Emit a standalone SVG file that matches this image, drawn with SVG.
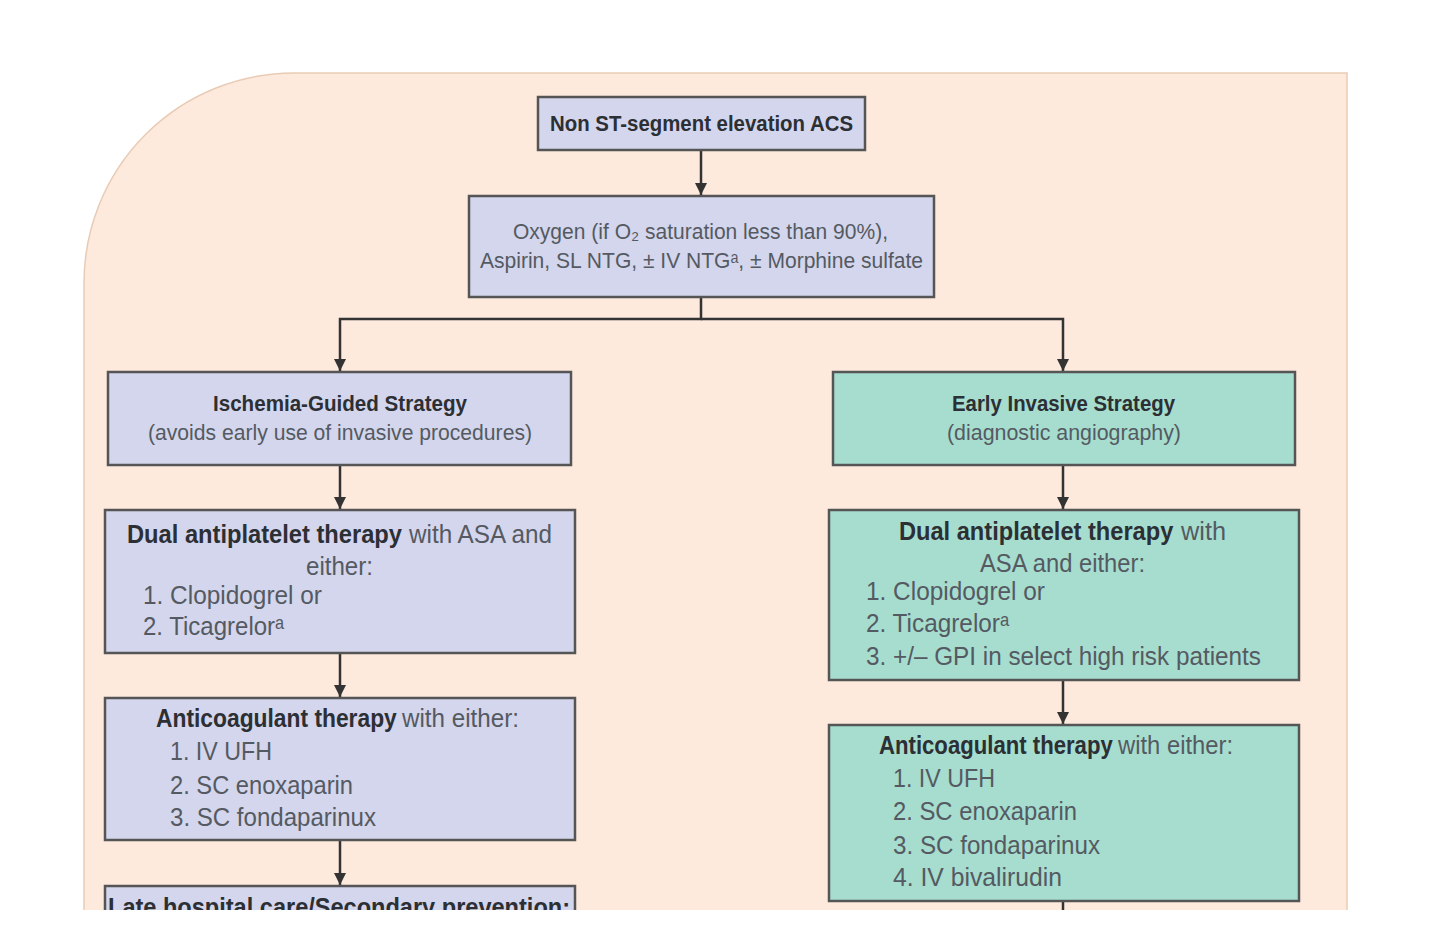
<svg xmlns="http://www.w3.org/2000/svg" width="1440" height="943" viewBox="0 0 1440 943">
<defs>
<style>
text{font-family:"Liberation Sans","DejaVu Sans",Arial,sans-serif;fill:#555a62}
.b{font-weight:bold;fill:#2c2f34}
.s22{font-size:22px}
.s25{font-size:25px}
.lav{fill:#d3d6ec;stroke:#555;stroke-width:2.5}
.teal{fill:#a6ddcf;stroke:#555;stroke-width:2.5}
.c{fill:none;stroke:#333;stroke-width:2.5}
</style>
<marker id="ah" viewBox="0 0 10 10" refX="10" refY="5" markerWidth="5" markerHeight="5" markerUnits="strokeWidth" orient="auto">
<path d="M0,0 L10,5 L0,10 z" fill="#333"/>
</marker>
<clipPath id="clip"><rect x="0" y="0" width="1440" height="910"/></clipPath>
</defs>
<rect width="1440" height="943" fill="#ffffff"/>
<g clip-path="url(#clip)">
<path id="background" d="M84,943 L84,283 A210,210 0 0 1 294,73 L1347,73 L1347,943 Z" fill="#fdeadd" stroke="#e9cbb5" stroke-width="1.5"/>

<g id="connectors">
<line class="c" x1="701" y1="150" x2="701" y2="195" marker-end="url(#ah)"/>
<polyline class="c" points="701,297 701,319 340,319 340,371" marker-end="url(#ah)"/>
<polyline class="c" points="701,319 1063,319 1063,371" marker-end="url(#ah)"/>
<line class="c" x1="340" y1="465" x2="340" y2="509" marker-end="url(#ah)"/>
<line class="c" x1="340" y1="653" x2="340" y2="697" marker-end="url(#ah)"/>
<line class="c" x1="340" y1="840" x2="340" y2="885" marker-end="url(#ah)"/>
<line class="c" x1="1063" y1="465" x2="1063" y2="509" marker-end="url(#ah)"/>
<line class="c" x1="1063" y1="680" x2="1063" y2="724" marker-end="url(#ah)"/>
<line class="c" x1="1063" y1="901" x2="1063" y2="943"/>
</g>

<g id="n-nstemi">
<rect class="lav" x="538" y="97" width="327" height="53"/>
<text class="b s22" x="550" y="131" textLength="303" lengthAdjust="spacingAndGlyphs">Non ST-segment elevation ACS</text>
</g>

<g id="n-initial">
<rect class="lav" x="469" y="196" width="465" height="101"/>
<text class="s22" x="513" y="239" textLength="375" lengthAdjust="spacingAndGlyphs">Oxygen (if O₂ saturation less than 90%),</text>
<text class="s22" x="480" y="268" textLength="443" lengthAdjust="spacingAndGlyphs">Aspirin, SL NTG, ± IV NTGᵃ, ± Morphine sulfate</text>
</g>

<g id="n-ischemia">
<rect class="lav" x="108" y="372" width="463" height="93"/>
<text class="b s22" x="213" y="411" textLength="254" lengthAdjust="spacingAndGlyphs">Ischemia-Guided Strategy</text>
<text class="s22" x="148" y="440" textLength="384" lengthAdjust="spacingAndGlyphs">(avoids early use of invasive procedures)</text>
</g>

<g id="n-invasive">
<rect class="teal" x="833" y="372" width="462" height="93"/>
<text class="b s22" x="952" y="411" textLength="223" lengthAdjust="spacingAndGlyphs">Early Invasive Strategy</text>
<text class="s22" x="947" y="440" textLength="234" lengthAdjust="spacingAndGlyphs">(diagnostic angiography)</text>
</g>

<g id="n-dapt-left">
<rect class="lav" x="105" y="510" width="470" height="143"/>
<text class="s25 b" x="127" y="543" textLength="275" lengthAdjust="spacingAndGlyphs">Dual antiplatelet therapy</text>
<text class="s25" x="409" y="543" textLength="143" lengthAdjust="spacingAndGlyphs">with ASA and</text>
<text class="s25" x="306" y="575" textLength="67" lengthAdjust="spacingAndGlyphs">either:</text>
<text class="s25" x="143" y="604" textLength="179" lengthAdjust="spacingAndGlyphs">1. Clopidogrel or</text>
<text class="s25" x="143" y="635" textLength="141" lengthAdjust="spacingAndGlyphs">2. Ticagrelorᵃ</text>
</g>

<g id="n-dapt-right">
<rect class="teal" x="829" y="510" width="470" height="170"/>
<text class="s25 b" transform="translate(899,540) scale(0.945,1)">Dual antiplatelet therapy</text>
<text class="s25" x="1181" y="540" textLength="45" lengthAdjust="spacingAndGlyphs">with</text>
<text class="s25" x="980" y="572" textLength="165" lengthAdjust="spacingAndGlyphs">ASA and either:</text>
<text class="s25" x="866" y="600" textLength="179" lengthAdjust="spacingAndGlyphs">1. Clopidogrel or</text>
<text class="s25" x="866" y="632" textLength="143" lengthAdjust="spacingAndGlyphs">2. Ticagrelorᵃ</text>
<text class="s25" x="866" y="665" textLength="395" lengthAdjust="spacingAndGlyphs">3. +/– GPI in select high risk patients</text>
</g>

<g id="n-anticoag-left">
<rect class="lav" x="105" y="698" width="470" height="142"/>
<text class="s25 b" transform="translate(156,727) scale(0.913,1)">Anticoagulant therapy</text>
<text class="s25" transform="translate(402,727) scale(0.968,1)">with either:</text>
<text class="s25" x="170" y="760" textLength="102" lengthAdjust="spacingAndGlyphs">1. IV UFH</text>
<text class="s25" x="170" y="794" textLength="183" lengthAdjust="spacingAndGlyphs">2. SC enoxaparin</text>
<text class="s25" x="170" y="826" textLength="206" lengthAdjust="spacingAndGlyphs">3. SC fondaparinux</text>
</g>

<g id="n-anticoag-right">
<rect class="teal" x="829" y="725" width="470" height="176"/>
<text class="s25 b" transform="translate(879,754) scale(0.886,1)">Anticoagulant therapy</text>
<text class="s25" transform="translate(1118,754) scale(0.952,1)">with either:</text>
<text class="s25" x="893" y="787" textLength="102" lengthAdjust="spacingAndGlyphs">1. IV UFH</text>
<text class="s25" x="893" y="820" textLength="184" lengthAdjust="spacingAndGlyphs">2. SC enoxaparin</text>
<text class="s25" x="893" y="854" textLength="207" lengthAdjust="spacingAndGlyphs">3. SC fondaparinux</text>
<text class="s25" x="893" y="886" textLength="169" lengthAdjust="spacingAndGlyphs">4. IV bivalirudin</text>
</g>

<g id="n-late">
<rect class="lav" x="105" y="886" width="470" height="80"/>
<text class="b s25" x="108" y="916" textLength="462" lengthAdjust="spacingAndGlyphs">Late hospital care/Secondary prevention:</text>
</g>
</g>
</svg>
